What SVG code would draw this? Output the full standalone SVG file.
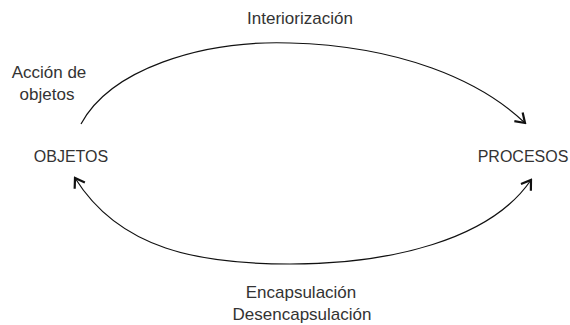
<svg xmlns="http://www.w3.org/2000/svg" width="570" height="325" viewBox="0 0 570 325">
<style>
text{font-family:"Liberation Sans",Arial,sans-serif;fill:#333;text-anchor:middle}
.node{font-size:16px}
.lbl{font-size:17px}
.arc{fill:none;stroke:#111;stroke-width:1.2}
</style>
<defs>
<marker id="arr" markerUnits="userSpaceOnUse" viewBox="-12 -8 14 16" refX="0" refY="0" markerWidth="14" markerHeight="16" orient="auto">
<path d="M-9,-6 L0,0 L-9,6" fill="none" stroke="#111" stroke-width="2.2" stroke-linejoin="miter"/>
</marker>
<marker id="arrStart" markerUnits="userSpaceOnUse" viewBox="-12 -8 14 16" refX="0" refY="0" markerWidth="14" markerHeight="16" orient="auto-start-reverse">
<path d="M-9,-6 L0,0 L-9,6" fill="none" stroke="#111" stroke-width="2.2" stroke-linejoin="miter"/>
</marker>
</defs>
<g id="connectors">
<path class="arc" d="M81,124 C110,70 200,40 290,43 C400,46 480,80 525,123" marker-end="url(#arr)"/>
<path class="arc" d="M75,178 C120,250 200,264 290,264 C390,264 490,240 531,180" marker-start="url(#arrStart)" marker-end="url(#arr)"/>
</g>
<g id="objetos"><text class="node" x="71" y="162">OBJETOS</text></g>
<g id="procesos"><text class="node" x="523" y="162">PROCESOS</text></g>
<g id="label-interiorizacion"><text class="lbl" x="300" y="24">Interiorización</text></g>
<g id="label-accion"><text class="lbl" x="49" y="78">Acción de</text><text class="lbl" x="47" y="100">objetos</text></g>
<g id="label-encapsulacion"><text class="lbl" x="301" y="298">Encapsulación</text><text class="lbl" x="302" y="320">Desencapsulación</text></g>
</svg>
